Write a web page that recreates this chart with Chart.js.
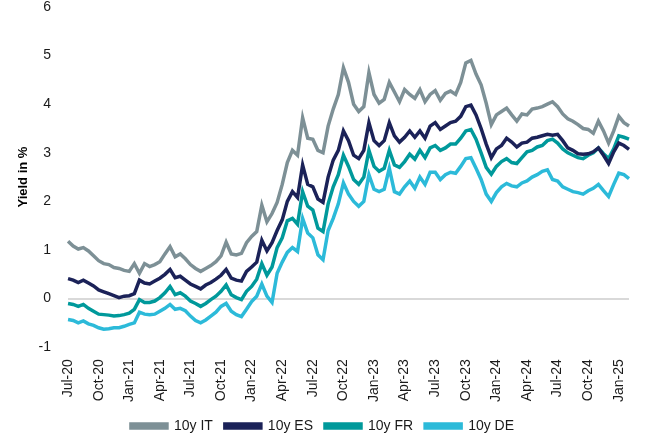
<!DOCTYPE html>
<html>
<head>
<meta charset="utf-8">
<script src="https://cdn.jsdelivr.net/npm/chart.js@4"></script>
<style>
  html, body { margin: 0; padding: 0; background: #fff; }
  #wrap { width: 651px; height: 434px; }
</style>
</head>
<body>
<div id="wrap"><canvas id="yieldChart"></canvas></div>
<script>
// half-monthly observations, Jul 2020 .. end Jan 2025
const MONTHS = ['Jan','Feb','Mar','Apr','May','Jun','Jul','Aug','Sep','Oct','Nov','Dec'];
const periods = [];
for (let i = 0; i < 111; i++) {
    const m = 6 + Math.floor(i / 2);
    const yy = 20 + Math.floor(m / 12);
    periods.push(MONTHS[m % 12] + '-' + yy + (i % 2 ? ' mid' : ''));
}

const yieldIT = [
    1.18, 1.08, 1.02, 1.05, 0.98, 0.88, 0.78, 0.72, 0.70, 0.64,
    0.62, 0.58, 0.56, 0.72, 0.52, 0.72, 0.66, 0.70, 0.76, 0.92,
    1.07, 0.86, 0.92, 0.82, 0.70, 0.62, 0.56, 0.62, 0.68, 0.76,
    0.88, 1.16, 0.92, 0.90, 0.93, 1.15, 1.28, 1.38, 1.92, 1.58,
    1.75, 1.98, 2.35, 2.80, 3.05, 2.95, 3.72, 3.30, 3.28, 3.05,
    3.00, 3.55, 3.90, 4.20, 4.75, 4.45, 4.00, 3.85, 3.95, 4.65,
    4.20, 4.02, 4.10, 4.45, 4.25, 4.05, 4.30, 4.20, 4.12, 4.30,
    4.05, 4.20, 4.28, 4.08, 4.22, 4.27, 4.20, 4.45, 4.85, 4.90,
    4.62, 4.40, 4.02, 3.58, 3.78, 3.85, 3.92, 3.78, 3.65, 3.80,
    3.78, 3.90, 3.92, 3.95, 4.00, 4.05, 3.95, 3.80, 3.70, 3.65,
    3.58, 3.50, 3.48, 3.40, 3.65, 3.45, 3.20, 3.45, 3.75, 3.62,
    3.55
];
const yieldES = [
    0.41, 0.38, 0.33, 0.38, 0.32, 0.26, 0.18, 0.14, 0.10, 0.06,
    0.02, 0.05, 0.06, 0.10, 0.38, 0.32, 0.30, 0.36, 0.42, 0.50,
    0.60, 0.43, 0.46, 0.38, 0.30, 0.25, 0.20, 0.28, 0.33, 0.40,
    0.48, 0.60, 0.42, 0.38, 0.36, 0.56, 0.65, 0.75, 1.20, 0.98,
    1.15, 1.40, 1.62, 2.00, 2.20, 2.08, 2.75, 2.35, 2.30, 2.05,
    1.98, 2.50, 2.85, 3.05, 3.45, 3.25, 2.95, 2.88, 3.05, 3.62,
    3.25, 3.15, 3.25, 3.62, 3.35, 3.22, 3.32, 3.45, 3.32, 3.45,
    3.30, 3.55, 3.62, 3.48, 3.55, 3.62, 3.65, 3.75, 3.95, 3.98,
    3.78, 3.50, 3.18, 2.90, 3.08, 3.15, 3.30, 3.22, 3.12, 3.20,
    3.22, 3.30, 3.32, 3.35, 3.38, 3.36, 3.38, 3.25, 3.10, 3.05,
    2.98, 2.97, 2.98, 3.02, 3.10, 2.95, 2.78, 3.02, 3.20, 3.15,
    3.07
];
const yieldFR = [
    -0.10, -0.12, -0.16, -0.12, -0.20, -0.26, -0.32, -0.33, -0.34, -0.36,
    -0.35, -0.33, -0.30, -0.22, -0.02, -0.08, -0.08, -0.05, 0.02, 0.12,
    0.25, 0.08, 0.12, 0.05, -0.05, -0.10, -0.16, -0.10, -0.02, 0.05,
    0.15, 0.28, 0.08, 0.02, -0.02, 0.15, 0.25, 0.40, 0.72, 0.48,
    0.65, 1.05, 1.25, 1.60, 1.65, 1.53, 2.20, 1.90, 1.82, 1.45,
    1.38, 1.95, 2.30, 2.55, 2.95, 2.72, 2.45, 2.35, 2.50, 3.05,
    2.72, 2.62, 2.68, 3.05, 2.75, 2.70, 2.82, 2.97, 2.87, 3.05,
    2.90, 3.10, 3.15, 3.05, 3.10, 3.18, 3.18, 3.30, 3.45, 3.48,
    3.28, 3.00, 2.70, 2.56, 2.72, 2.82, 2.88, 2.80, 2.78, 2.90,
    3.02, 3.05, 3.12, 3.15, 3.25, 3.28, 3.20, 3.08, 3.00, 2.95,
    2.90, 2.88, 2.95, 3.00, 3.10, 2.98, 2.88, 3.08, 3.35, 3.32,
    3.28
];
const yieldDE = [
    -0.43, -0.45, -0.50, -0.46, -0.52, -0.55, -0.60, -0.63, -0.62, -0.60,
    -0.60, -0.57, -0.53, -0.50, -0.28, -0.32, -0.33, -0.32, -0.26, -0.20,
    -0.12, -0.22, -0.20, -0.25, -0.36, -0.45, -0.50, -0.44, -0.36, -0.28,
    -0.16, -0.10, -0.26, -0.33, -0.37, -0.22, -0.06, 0.05, 0.30, 0.05,
    -0.08, 0.52, 0.75, 0.95, 1.05, 0.97, 1.65, 1.35, 1.25, 0.90,
    0.80, 1.40, 1.65, 1.95, 2.38, 2.15, 2.00, 1.90, 2.00, 2.55,
    2.25, 2.20, 2.25, 2.68, 2.20, 2.15, 2.30, 2.42, 2.27, 2.50,
    2.35, 2.60, 2.60, 2.45, 2.55, 2.60, 2.58, 2.72, 2.88, 2.90,
    2.68, 2.45, 2.15, 2.00, 2.18, 2.30, 2.37, 2.32, 2.30, 2.38,
    2.42, 2.50, 2.55, 2.62, 2.65, 2.45, 2.42, 2.30, 2.25, 2.20,
    2.18, 2.15, 2.22, 2.27, 2.35, 2.22, 2.10, 2.35, 2.58, 2.55,
    2.47
];

const seriesNames = ['10y IT', '10y ES', '10y FR', '10y DE'];
const seriesColors = ['#7d9096', '#1b2258', '#00999b', '#2cbad9'];
const seriesData = [yieldIT, yieldES, yieldFR, yieldDE];

const FONT = "'Liberation Sans', Arial, sans-serif";

function InitYieldChart() {
    const ctx = document.getElementById('yieldChart').getContext('2d');
    const datasets = seriesNames.map((name, index) => ({
        label: name,
        data: seriesData[index],
        borderColor: seriesColors[index],
        backgroundColor: seriesColors[index],
        borderWidth: 3.5,
        pointRadius: 0,
        pointHoverRadius: 0,
        tension: 0,
        fill: false
    }));

    new Chart(ctx, {
        type: 'line',
        data: { labels: periods, datasets: datasets },
        options: {
            responsive: true,
            maintainAspectRatio: false,
            animation: false,
            layout: { padding: { left: 16, right: 22, top: 0, bottom: -9 } },
            plugins: {
                tooltip: { enabled: false },
                legend: {
                    position: 'bottom',
                    labels: {
                        boxWidth: 36,
                        boxHeight: 4,
                        padding: 12,
                        color: '#1a1a1a',
                        font: { family: FONT, size: 14 }
                    }
                }
            },
            scales: {
                x: {
                    grid: { display: false },
                    border: { display: false },
                    afterFit: (scale) => { scale.height += 1; },
                    ticks: {
                        autoSkip: false,
                        minRotation: 90,
                        maxRotation: 90,
                        padding: 4,
                        color: '#1a1a1a',
                        font: { family: FONT, size: 14 },
                        callback: function (val, i) {
                            if (i % 2) return '';
                            const label = this.getLabelForValue(val);
                            const mon = MONTHS.indexOf(label.slice(0, 3));
                            return mon % 3 === 0 ? label : '';
                        }
                    }
                },
                y: {
                    min: -1,
                    max: 6,
                    afterFit: (scale) => { scale.paddingTop = 7; scale.paddingBottom = 7; },
                    ticks: {
                        stepSize: 1,
                        padding: 17,
                        color: '#1a1a1a',
                        font: { family: FONT, size: 14 }
                    },
                    border: { display: false },
                    grid: {
                        drawTicks: false,
                        lineWidth: 2,
                        color: (c) => (c.tick && c.tick.value === 0 ? '#d9d9d9' : 'rgba(0,0,0,0)')
                    },
                    title: {
                        display: true,
                        text: 'Yield in %',
                        color: '#000',
                        padding: { top: 0, bottom: -10 },
                        font: { family: FONT, size: 13, weight: 'bold' }
                    }
                }
            }
        }
    });
}

InitYieldChart();
</script>
</body>
</html>
